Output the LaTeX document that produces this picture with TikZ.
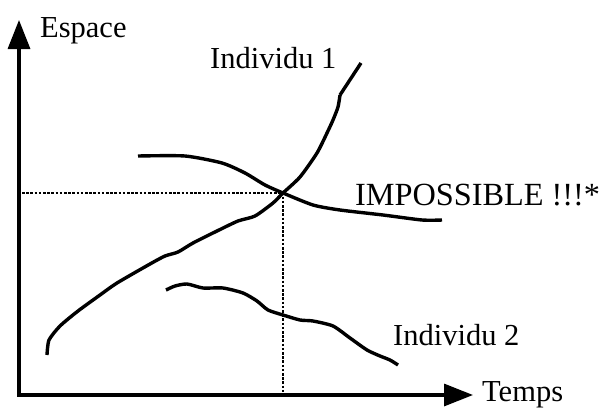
\documentclass[tikz,border=0pt]{standalone}
\usepackage{fontspec}
\setmainfont{Liberation Serif}
\usetikzlibrary{arrows.meta}
\begin{document}
\begin{tikzpicture}[x=1pt,y=-1pt,
  axis/.style={line width=3.2pt,-{Triangle[length=29pt,width=22pt]}},
  curve/.style={line width=3.4pt,line join=round},
  guide/.style={line width=2.4pt,dash pattern=on 2.6pt off 1.6pt},
  lbl/.style={inner sep=0pt,anchor=base west,font=\fontsize{30.5}{36}\selectfont}]
\useasboundingbox (0,0) rectangle (602,407);
\coordinate (O) at (19,395);
\coordinate (Ytip) at (19,20);
\coordinate (Xtip) at (473,395);
\coordinate (X) at (283,193);
\coordinate (Yx) at (22,193);
\coordinate (Xx) at (283,395);
% axes
\draw[axis] (O) -- (Ytip);
\draw[axis] ([xshift=-1.6pt]O) -- (Xtip);
% labels
\node[lbl] (esp) at (40,37) {Espace};
\node[lbl] (ind1) at (210,68) {Individu 1};
\node[lbl,font=\fontsize{32.3}{36}\selectfont] (imp) at (355,205) {IMPOSSIBLE !!!*};
\node[lbl] (ind2) at (393,345) {Individu 2};
\node[lbl] (tmp) at (482,401) {Temps};
% dotted guides
\draw[guide] (Yx) -- (X) -- (Xx);
% individu 1
\draw[curve] plot[smooth,tension=0.4] coordinates {(47,355) (49,340) (60,326) (78,311) (100,295) (117,283) (150,264) (165,256) (178,252) (193,243) (217,231) (238,221) (255,216) (273,203) (283,193) (300,177) (317,153) (327,133) (333,120) (338,107) (340,95)};
\draw[curve] (340,95) -- (361,63);
% crossing curve
\draw[curve] plot[smooth,tension=0.4] coordinates {(138,156) (185,156) (222,163) (245,173) (265,185) (283,193) (313,205) (340,210) (383,215) (422,220) (442,220)};
% individu 2
\draw[curve] plot[smooth,tension=0.4] coordinates {(166,290) (175,286) (187,284) (203,288) (223,288) (243,293) (257,301) (268,310) (283,315) (300,320) (313,321) (333,326) (350,338) (367,350) (380,356) (390,360) (398,365)};
\end{tikzpicture}
\end{document}
